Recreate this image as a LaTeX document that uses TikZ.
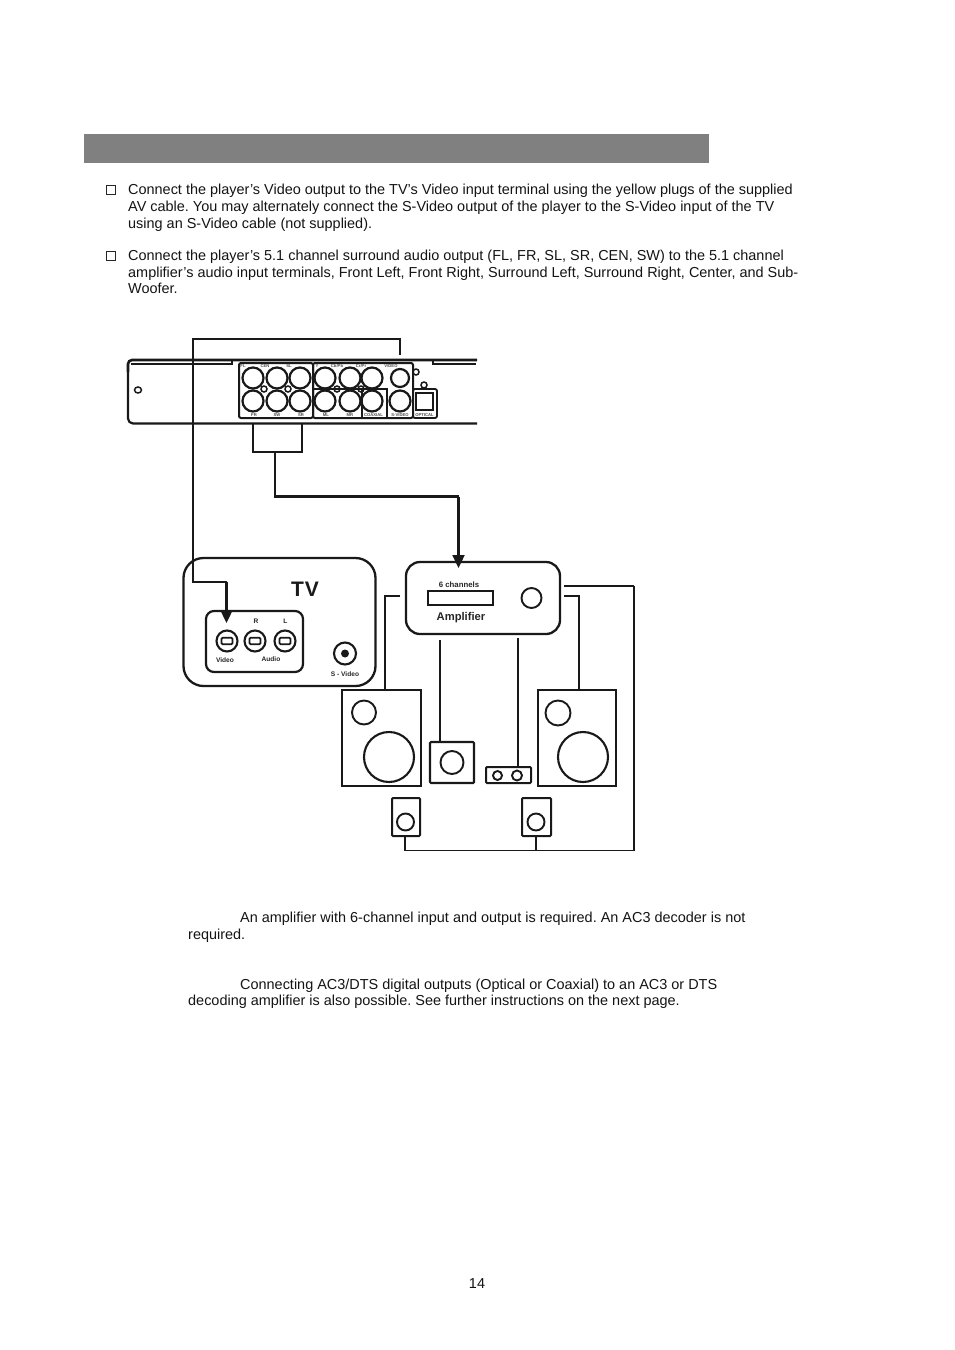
\documentclass[tikz,border=0pt]{standalone}
\usepackage{fontspec}
\setmainfont{Liberation Sans}
\usetikzlibrary{arrows.meta,shapes.geometric}
\frenchspacing
\tikzset{
  x=1pt,y=-1pt,
  body/.style={anchor=base west,inner sep=0pt,font=\fontsize{14.45}{17}\selectfont,text=black!92},
  chk/.style={draw=black!85,line width=0.9pt,inner sep=0pt,minimum width=9pt,minimum height=9pt},
  wire/.style={line width=2.3pt,black!90},
  thin wire/.style={line width=1.5pt,black!90},
  spk wire/.style={line width=2pt,black!90},
  arrowed/.style={-{Triangle[length=13pt,width=12pt]}},
  box/.style={draw=black!90,line width=2pt,inner sep=0pt,rectangle},
  ring/.style={draw=black!90,line width=1.9pt,circle,inner sep=0pt},
  jack/.style={draw=black!90,line width=2.2pt,circle,inner sep=0pt,minimum size=21pt},
  hole/.style={draw=black!90,line width=1.5pt,circle,inner sep=0pt,minimum size=6pt},
  tiny/.style={inner sep=0pt,font=\fontsize{4.2}{5}\selectfont\bfseries,text=black!70},
  lab/.style={inner sep=0pt,font=\fontsize{6.6}{8}\selectfont\bfseries,text=black!85},
}
\begin{document}
\begin{tikzpicture}
\useasboundingbox (0,0) rectangle (954,1350);
\fill[white] (0,0) rectangle (954,1350);
% header
\fill[fill=black!50] (84,134) rectangle (709,163);
% text
\node[chk] (c1) at (110.5,189.5) {};
\node[chk] (c2) at (110.5,255.5) {};
\node[body] (t1) at (128,194) {Connect the player’s Video output to the TV’s Video input terminal using the yellow plugs of the supplied};
\node[body] (t2) at (128,211) {AV cable. You may alternately connect the S-Video output of the player to the S-Video input of the TV};
\node[body] (t3) at (128,228) {using an S-Video cable (not supplied).};
\node[body] (t4) at (128,260) {Connect the player’s 5.1 channel surround audio output (FL, FR, SL, SR, CEN, SW) to the 5.1 channel};
\node[body] (t5) at (128,277) {amplifier’s audio input terminals, Front Left, Front Right, Surround Left, Surround Right, Center, and Sub-};
\node[body] (t6) at (128,293) {Woofer.};
\node[body] (t7) at (240,922) {An amplifier with 6-channel input and output is required. An AC3 decoder is not};
\node[body] (t8) at (188,939) {required.};
\node[body] (t9) at (240,989) {Connecting AC3/DTS digital outputs (Optical or Coaxial) to an AC3 or DTS};
\node[body] (t10) at (188,1005) {decoding amplifier is also possible. See further instructions on the next page.};
\node[body,anchor=base] (pg) at (477,1288) {14};
% player chassis
\draw[line width=2.6pt,black!90,rounded corners=4pt] (128,372) -- (128,360) -- (477,360);
\draw[line width=1.6pt,black!90] (131,364) -- (232,364) -- (232,360);
\draw[line width=1.6pt,black!90] (433,360) -- (433,364) -- (476,364);
\draw[line width=2.2pt,black!90,rounded corners=5pt] (128,372) -- (128,423.5) -- (477,423.5);
\node[draw=black!90,line width=1.5pt,ellipse,inner sep=0pt,minimum width=7pt,minimum height=6pt] (screw) at (138,390) {};
% panels
\draw[line width=2pt,black!90,rounded corners=2pt] (239,363) rectangle (313,418);
\draw[line width=2pt,black!90,rounded corners=2pt] (313,363) rectangle (413,418);
\draw[line width=1.2pt,black!90] (313,389) -- (387,389) -- (387,418);
\draw[line width=1.2pt,black!90] (362,389) -- (362,418);
\draw[line width=1.8pt,black!90,rounded corners=2pt] (413,389) rectangle (437,418);
\draw[line width=2pt,black!90] (415.5,393) rectangle (433,410);
% jacks
\foreach \n/\x/\y in {fl/253/378,cen/277/378,sl/300/378,fr/253/401,sw/277/401,sr/300/401,
  y/325/378,pb/350/378,pr/372/378,ml/325/401,mr/350/401,coax/372/401,sv/400/401}
  \node[jack] (j\n) at (\x,\y) {};
\node[jack,minimum size=18pt] (jvid) at (400,378) {};
\foreach \n/\x/\y in {a/264/389,b/288/389,c/337/389,d/361/389,e/416/372,f/424/385}
  \node[hole] (h\n) at (\x,\y) {};
% tiny labels
\node[tiny] (lfl) at (243,366.5) {FL};
\node[tiny] (lcen) at (265,366.5) {CEN};
\node[tiny] (lsl) at (289,366.5) {SL};
\node[tiny] (ly) at (317,366.5) {Y};
\node[tiny] (lpb) at (337,366.5) {Cb/Pb};
\node[tiny] (lpr) at (361,366.5) {Cr/Pr};
\node[tiny] (lvid) at (391,366.5) {VIDEO};
\node[tiny] (lfr) at (254,415) {FR};
\node[tiny] (lsw) at (277,415) {SW};
\node[tiny] (lsr) at (301,415) {SR};
\node[tiny] (lml) at (326,415) {ML};
\node[tiny] (lmr) at (350,415) {MR};
\node[tiny] (lco) at (373.5,415) {COAXIAL};
\node[tiny] (lsv) at (400,415) {S-VIDEO};
\node[tiny] (lop) at (424.5,415) {OPTICAL};
% TV
\node[box,line width=2.3pt,minimum width=192pt,minimum height=128pt,rounded corners=20pt] (tv) at (279.5,622) {};
\node[inner sep=0pt,font=\fontsize{21}{24}\selectfont\bfseries,text=black!90] (tvl) at (305,589) {T\kern1ptV};
\node[box,line width=2.2pt,minimum width=97pt,minimum height=61pt,rounded corners=8pt] (tvin) at (254.5,641.5) {};
\foreach \n/\x in {vi/227,r/255,l/285}{
  \node[ring,line width=2.1pt,minimum size=21pt] (s\n) at (\x,641) {};
  \node[draw=black!90,line width=1.8pt,rounded corners=1.2pt,inner sep=0pt,minimum width=11pt,minimum height=6.5pt] (p\n) at (\x,641) {};
}
\node[ring,line width=2.1pt,minimum size=22pt] (ssv) at (345,653.5) {};
\node[fill=black!90,circle,inner sep=0pt,minimum size=8pt] (ssvc) at (345,653.5) {};
\node[lab] (lr) at (256,621) {R};
\node[lab] (ll) at (285.5,621) {L};
\node[lab] (lv) at (225,660.5) {Video};
\node[lab] (la) at (271,659.5) {Audio};
\node[lab] (lsvv) at (345,674) {S - Video};
% amplifier
\node[box,line width=2.3pt,minimum width=154pt,minimum height=72pt,rounded corners=14pt] (amp) at (483,598) {};
\node[box,line width=2.3pt,minimum width=65pt,minimum height=14pt] (slot) at (460.5,598) {};
\node[ring,minimum size=20pt] (ampk) at (531.5,598) {};
\node[lab,font=\fontsize{7.8}{9}\selectfont\bfseries] (l6) at (459,585) {6 channels};
\node[inner sep=0pt,font=\fontsize{11.2}{13}\selectfont\bfseries,text=black!85] (lamp) at (461,618) {Amplifier};
% speakers
\node[box,line width=2.1pt,minimum width=79pt,minimum height=96pt] (spL) at (381.5,738) {};
\node[ring,minimum size=24pt] (twL) at (364,712.5) {};
\node[ring,line width=2.1pt,minimum size=50pt] (wfL) at (389,757) {};
\node[box,line width=2.1pt,minimum width=78pt,minimum height=96pt] (spR) at (577,738) {};
\node[ring,minimum size=25pt] (twR) at (558,713) {};
\node[ring,line width=2.1pt,minimum size=50pt] (wfR) at (583,757) {};
\node[box,line width=2.1pt,minimum width=44pt,minimum height=41pt,rounded corners=1pt] (sub) at (452,762.5) {};
\node[ring,minimum size=23pt] (subc) at (452,762.5) {};
\node[box,minimum width=45pt,minimum height=16pt,rounded corners=1pt] (cen) at (508.5,775) {};
\node[ring,minimum size=9pt] (cen1) at (497.5,775.5) {};
\node[ring,minimum size=10pt] (cen2) at (517,775.5) {};
\node[box,minimum width=28pt,minimum height=38pt,rounded corners=1pt] (srl) at (406,817) {};
\node[ring,minimum size=17pt] (srlc) at (405.5,822) {};
\node[box,minimum width=29pt,minimum height=38pt,rounded corners=1pt] (srr) at (536.5,817) {};
\node[ring,minimum size=17pt] (srrc) at (536,822) {};
% connector ends
\coordinate (vidtop) at (400,355);
\coordinate (c11) at (400,339);
\coordinate (c12) at (193,339);
\coordinate (c13) at (193,582);
\coordinate (c14) at (226.5,582);
\coordinate (vidtip) at (226.5,623);
\coordinate (frdn) at (253,424);
\coordinate (srdn) at (302,424);
\coordinate (brL) at (253,452);
\coordinate (brR) at (302,452);
\coordinate (brM) at (275,452);
\coordinate (c21) at (275,496.5);
\coordinate (c22) at (458.5,496.5);
\coordinate (amptip) at (458.5,568);
\coordinate (aL) at (400,596);
\coordinate (aLb) at (385,596);
\coordinate (spLt) at (385,690);
\coordinate (aS) at (440,640);
\coordinate (subt) at (440,742);
\coordinate (aC) at (518,638);
\coordinate (cent) at (518,767);
\coordinate (aR) at (564,596);
\coordinate (aRb) at (579,596);
\coordinate (spRt) at (579,690);
\coordinate (aRs) at (564,586);
\coordinate (sb1) at (634,586);
\coordinate (sb2) at (634,850.5);
\coordinate (sb3) at (405,850.5);
\coordinate (srlb) at (405,836);
\coordinate (sbm) at (536,850.5);
\coordinate (srrb) at (536,836);
% connectors
\draw[wire] (vidtop) -- (c11) -- (c12) -- (c13) -- (c14);
\draw[wire,arrowed] (c14) -- (vidtip);
\draw[wire] (frdn) -- (brL) -- (brR) -- (srdn);
\draw[wire] (brM) -- (c21) -- (c22);
\draw[wire,arrowed] (c22) -- (amptip);
\draw[spk wire] (aL) -- (aLb) -- (spLt);
\draw[spk wire] (aS) -- (subt);
\draw[spk wire] (aC) -- (cent);
\draw[spk wire] (aR) -- (aRb) -- (spRt);
\draw[thin wire,line width=1.8pt] (aRs) -- (sb1);
\draw[thin wire] (sb1) -- (sb2) -- (sb3) -- (srlb);
\draw[thin wire] (sbm) -- (srrb);
\end{tikzpicture}
\end{document}
